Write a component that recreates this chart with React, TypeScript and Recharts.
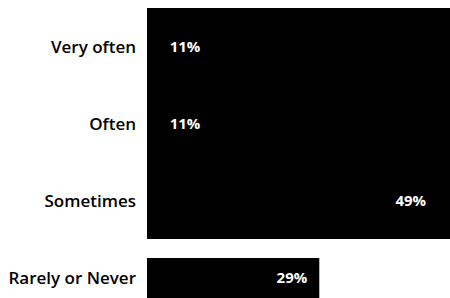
import React from "react";
import {
  BarChart,
  Bar,
  XAxis,
  YAxis,
  LabelList,
  ReferenceArea,
} from "recharts";

const categories = ["Very often", "Often", "Sometimes", "Rarely or Never"];
const shares = [11, 11, 49, 29];

const data = categories.map((name, i) => ({ name, share: shares[i] }));

const font = "'Open Sans', sans-serif";

export default function App() {
  return (
    <div
      style={{
        position: "absolute",
        top: 0,
        left: 0,
        width: 450,
        height: 298,
        overflow: "hidden",
        background: "#fff",
      }}
    >
      <BarChart
        width={450}
        height={320}
        data={data}
        layout="vertical"
        margin={{ top: 8, right: 0, bottom: 4, left: 0 }}
        barSize={40}
      >
        <XAxis type="number" domain={[0, 51]} hide />
        <YAxis
          type="category"
          dataKey="name"
          width={147}
          axisLine={false}
          tickLine={false}
          tickMargin={5}
          tick={{
            fill: "#000",
            fontFamily: font,
            fontSize: 17,
            fontWeight: 600,
          }}
        />
        {/* the top three rows come out as one solid dark block in the scan */}
        <ReferenceArea
          x1={0}
          x2={51}
          y1="Very often"
          y2="Sometimes"
          fill="#000"
          fillOpacity={1}
          stroke="none"
        />
        <Bar dataKey="share" fill="#000" isAnimationActive={false}>
          <LabelList
            dataKey="share"
            position="insideRight"
            offset={12}
            formatter={(v: number) => `${v}%`}
            fill="#fff"
            style={{ fontFamily: font, fontSize: 15, fontWeight: 700 }}
          />
        </Bar>
      </BarChart>
    </div>
  );
}
